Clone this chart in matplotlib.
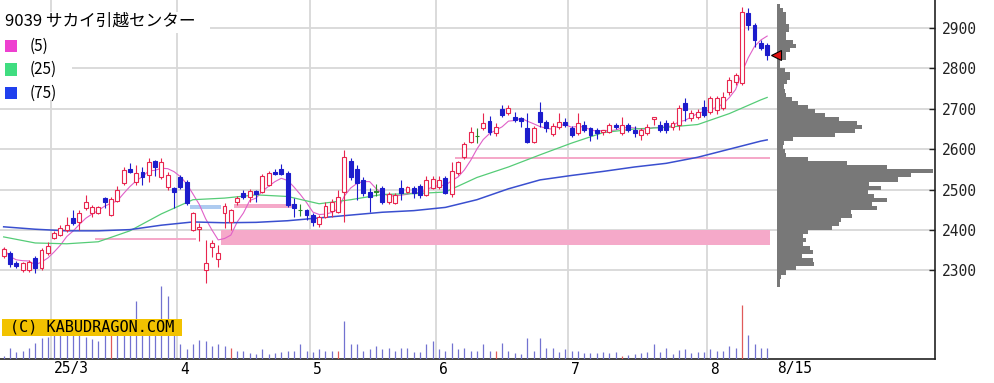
import numpy as np
import pandas as pd
import matplotlib
matplotlib.use('Agg')
import matplotlib.pyplot as plt
from matplotlib.patches import Rectangle
import matplotlib.transforms as mtransforms

plt.rcParams['font.family'] = ['Noto Sans CJK JP', 'DejaVu Sans']

title = '9039 サカイ引越センター'

# daily OHLC, 2025-02-18 .. 2025-08-15
opens = [2336, 2343, 2319, 2300, 2302, 2330, 2305, 2343, 2380, 2388,
         2400, 2430, 2420, 2454, 2442, 2442, 2479, 2437, 2472, 2517,
         2551, 2519, 2543, 2536, 2571, 2531, 2507, 2504, 2531, 2519,
         2400, 2403, 2301, 2358, 2328, 2442, 2420, 2469, 2491, 2481,
         2497, 2494, 2512, 2543, 2551, 2541, 2465, 2449, 2449, 2437,
         2415, 2432, 2447, 2444, 2494, 2571, 2551, 2524, 2494, 2495,
         2504, 2469, 2467, 2504, 2494, 2504, 2509, 2487, 2504, 2506,
         2529, 2489, 2541, 2580, 2618, 2632, 2652, 2669, 2640, 2699,
         2689, 2679, 2677, 2652, 2618, 2692, 2667, 2637, 2655, 2667,
         2652, 2640, 2660, 2652, 2647, 2642, 2642, 2660, 2640, 2660,
         2647, 2635, 2640, 2674, 2660, 2664, 2655, 2660, 2715, 2677,
         2679, 2704, 2692, 2697, 2702, 2742, 2766, 2764, 2937, 2907,
         2862, 2857]
highs = [2358, 2348, 2323, 2322, 2326, 2336, 2355, 2370, 2398, 2412,
         2432, 2449, 2449, 2487, 2462, 2460, 2482, 2482, 2509, 2556,
         2566, 2561, 2556, 2578, 2573, 2578, 2543, 2507, 2536, 2524,
         2445, 2417, 2375, 2375, 2363, 2467, 2453, 2484, 2499, 2501,
         2499, 2538, 2546, 2551, 2563, 2546, 2479, 2465, 2452, 2442,
         2437, 2469, 2477, 2499, 2598, 2578, 2561, 2531, 2504, 2514,
         2509, 2494, 2491, 2524, 2509, 2509, 2514, 2534, 2534, 2534,
         2534, 2568, 2570, 2618, 2655, 2652, 2689, 2682, 2664, 2709,
         2709, 2692, 2679, 2689, 2657, 2717, 2672, 2664, 2689, 2677,
         2657, 2689, 2669, 2655, 2652, 2647, 2664, 2664, 2679, 2664,
         2657, 2652, 2662, 2679, 2669, 2672, 2669, 2709, 2727, 2697,
         2699, 2722, 2732, 2732, 2742, 2779, 2789, 2952, 2949, 2912,
         2870, 2862]
lows = [2331, 2309, 2306, 2296, 2296, 2294, 2302, 2338, 2378, 2385,
        2395, 2412, 2400, 2449, 2432, 2440, 2454, 2435, 2469, 2512,
        2541, 2512, 2512, 2519, 2534, 2527, 2499, 2454, 2502, 2462,
        2398, 2373, 2269, 2333, 2309, 2405, 2400, 2462, 2476, 2469,
        2469, 2491, 2509, 2536, 2536, 2457, 2432, 2434, 2424, 2410,
        2407, 2430, 2432, 2442, 2420, 2524, 2474, 2484, 2444, 2484,
        2464, 2464, 2464, 2474, 2491, 2479, 2479, 2484, 2502, 2502,
        2489, 2481, 2536, 2575, 2615, 2615, 2647, 2635, 2632, 2679,
        2684, 2667, 2654, 2615, 2615, 2654, 2642, 2632, 2650, 2655,
        2630, 2635, 2642, 2620, 2625, 2635, 2640, 2650, 2635, 2642,
        2630, 2622, 2635, 2659, 2642, 2640, 2647, 2647, 2670, 2669,
        2675, 2679, 2687, 2687, 2697, 2734, 2759, 2759, 2895, 2853,
        2845, 2821]
closes = [2353, 2316, 2310, 2318, 2320, 2306, 2350, 2360, 2393, 2405,
          2412, 2417, 2442, 2469, 2457, 2457, 2470, 2477, 2499, 2548,
          2543, 2541, 2531, 2568, 2556, 2568, 2536, 2494, 2507, 2467,
          2442, 2407, 2318, 2368, 2343, 2459, 2449, 2479, 2481, 2497,
          2489, 2534, 2541, 2538, 2538, 2462, 2454, 2449, 2437, 2420,
          2432, 2459, 2469, 2481, 2580, 2531, 2516, 2491, 2481, 2495,
          2469, 2489, 2487, 2491, 2506, 2491, 2487, 2524, 2526, 2524,
          2491, 2546, 2568, 2613, 2642, 2632, 2664, 2642, 2655, 2684,
          2702, 2672, 2670, 2618, 2652, 2667, 2652, 2657, 2667, 2660,
          2635, 2664, 2647, 2635, 2640, 2647, 2660, 2655, 2660, 2647,
          2640, 2647, 2655, 2679, 2647, 2647, 2664, 2702, 2697, 2689,
          2692, 2684, 2727, 2727, 2729, 2771, 2784, 2939, 2907, 2870,
          2850, 2833]
# volume, thousand shares
volumes = [3, 11, 7, 8, 11, 16, 21, 22, 26, 25,
           28, 26, 24, 22, 20, 18, 25, 25, 27, 28,
           30, 58, 30, 30, 32, 73, 63, 30, 15, 10,
           15, 19, 18, 13, 15, 13, 11, 8, 8, 6,
           5, 10, 5, 6, 7, 8, 8, 15, 8, 7,
           10, 8, 8, 8, 38, 15, 15, 8, 10, 13,
           10, 11, 8, 11, 11, 7, 7, 15, 18, 10,
           8, 16, 10, 11, 8, 8, 15, 8, 8, 16,
           8, 6, 5, 21, 8, 21, 11, 11, 7, 10,
           8, 8, 6, 6, 6, 7, 6, 7, 3, 4,
           5, 6, 7, 15, 7, 11, 5, 9, 10, 6,
           7, 7, 10, 8, 8, 13, 11, 54, 24, 15,
           11, 11]
vol_red_days = [17, 36, 53, 78, 98, 117]

month_start = [8, 28, 49, 69, 90, 112]
month_labels = ['25/3', '4', '5', '6', '7', '8']
last_label = '8/15'

# moving averages
ma_days = [0, 5, 10, 15, 20, 25, 30, 35, 40, 45, 50, 55, 60, 65, 70, 75,
           80, 85, 90, 95, 100, 105, 110, 115, 120, 121]
ma25 = [2383, 2368, 2366, 2371, 2398, 2440, 2475, 2479, 2487, 2483, 2465,
        2475, 2488, 2490, 2494, 2530, 2556, 2586, 2615, 2641, 2650, 2654,
        2661, 2688, 2722, 2728]
ma75 = [2408, 2402, 2398, 2398, 2401, 2412, 2420, 2418, 2419, 2423, 2430,
        2437, 2444, 2448, 2456, 2475, 2502, 2524, 2535, 2545, 2556, 2565,
        2580, 2600, 2620, 2623]
ma_windows = [5, 25, 75]

# open price gaps (first day, last day, low, high, direction)
gap_start = [15, 30, 37, 35, 72]
gap_end = [30, 34, 46, 121, 121]
gap_lo = [2375, 2451, 2455, 2363, 2575]
gap_hi = [2381, 2462, 2465, 2400, 2581]
gap_up = [True, False, True, True, True]

# price-by-volume profile, 10 yen bins
profile_price = np.arange(2260, 2960, 10)
profile_vol = [3, 3, 4, 9, 19, 37, 36, 25, 36, 33,
               26, 29, 26, 31, 55, 62, 64, 75, 74, 100,
               95, 110, 97, 91, 104, 92, 121, 134, 156, 110,
               70, 31, 9, 8, 6, 7, 16, 58, 78, 85,
               80, 62, 48, 38, 31, 21, 15, 9, 8, 7,
               10, 13, 13, 8, 3, 3, 9, 9, 13, 19,
               16, 9, 9, 12, 12, 9, 9, 9, 6, 3]

price_ticks = [2300, 2400, 2500, 2600, 2700, 2800, 2900]

up_c = '#e8264f'
dn_c = '#1c1ccc'
eq_c = '#2a8a2a'
grid_c = '#d8d8d8'
ma_colors = ['#e060c8', '#55cc77', '#3a4fcf']
leg_colors = ['#ee40d0', '#40dd80', '#2040ee']

W, H = 995, 383
fig = plt.figure(figsize=(W / 100, H / 100), dpi=100)


def fx(px):
    return px / W


def fy(py):
    return 1 - py / H


n = len(closes)
idx = np.arange(n)
o = np.array(opens)
c = np.array(closes)

ax = fig.add_axes([0, fy(359), fx(935), 359 / H])
ax.set_xlim(-0.58, 147.6)
ax.set_ylim(2081, 2969)

for p in price_ticks:
    ax.axhline(p, color=grid_c, lw=1.3, zorder=0.5)
for m in month_start:
    ax.axvline(m - 0.5, color=grid_c, lw=1.3, zorder=0.5)

for s, e, lo, hi, up in zip(gap_start, gap_end, gap_lo, gap_hi, gap_up):
    ax.fill_between([s - 0.5, e + 0.5], lo, hi, color='#f5a9c9' if up else '#aecbf0',
                    lw=0, zorder=1)

ma5 = pd.Series(closes).rolling(5, min_periods=1).mean()
ax.plot(idx, ma5, color=ma_colors[0], lw=0.8, zorder=2)
ax.plot(ma_days, ma25, color=ma_colors[1], lw=0.9, zorder=2)
ax.plot(ma_days, ma75, color=ma_colors[2], lw=1.1, zorder=2)

cols = np.where(c > o, up_c, np.where(c < o, dn_c, eq_c))
ax.vlines(idx, lows, highs, colors=cols, lw=0.8, zorder=3)
face = np.where(c > o, 'white', cols)
body = np.maximum(np.abs(c - o), 1.5)
ax.bar(idx, body, bottom=np.minimum(o, c), width=0.62, color=face,
       edgecolor=cols, lw=0.8, zorder=4)

ax.yaxis.tick_right()
ax.set_yticks(price_ticks)
ax.set_yticklabels([str(p) for p in price_ticks], family='DejaVu Sans Mono',
                   fontsize=10.5)
ax.tick_params(axis='y', direction='in', length=4, width=1, pad=5,
               colors='#222222')
ax.set_xticks([])
for side in ['top', 'left']:
    ax.spines[side].set_visible(False)
for side in ['right', 'bottom']:
    ax.spines[side].set_linewidth(1.2)
    ax.spines[side].set_color('#222222')

offset = mtransforms.ScaledTranslation(3 / 100, 0, fig.dpi_scale_trans)
trans = mtransforms.blended_transform_factory(ax.transData, ax.transAxes) + offset
for m, lab in zip(month_start + [n + 0.6], month_labels + [last_label]):
    ax.text(m - 0.5, -10 / 359, lab, transform=trans, ha='left', va='center',
            family='DejaVu Sans Mono', fontsize=10.5, clip_on=False)

# volume
axv = fig.add_axes([0, fy(359), fx(935), 359 / H])
axv.set_xlim(-0.58, 147.6)
axv.set_ylim(0, 359)
axv.axis('off')
vcol = ['#e05a5a' if i in vol_red_days else '#7272d0' for i in idx]
axv.vlines(idx, 0, volumes, colors=vcol, lw=0.9)

# price-by-volume
axp = fig.add_axes([fx(777), fy(359), fx(935 - 777), 359 / H])
axp.set_xlim(0, 158)
axp.set_ylim(2081, 2969)
axp.axis('off')
axp.barh(profile_price, profile_vol, height=10, align='edge', color='#787878', lw=0)
axp.plot([n + 0.4], [closes[-1]], marker='<', ms=7, mfc='#e01010', mec='black',
         mew=0.8, transform=ax.transData, clip_on=False)

# title and legend
fig.add_artist(Rectangle((0, fy(33)), fx(210), 21 / H, transform=fig.transFigure,
                         fc='white', ec='none', zorder=5))
fig.add_artist(Rectangle((0, fy(100)), fx(72), 67 / H, transform=fig.transFigure,
                         fc='white', ec='none', zorder=5))
fig.text(fx(5), fy(21.5), title, fontsize=12, ha='left', va='center', zorder=6)
for k, (win, col) in enumerate(zip(ma_windows, leg_colors)):
    yc = 46 + 23.5 * k
    fig.add_artist(Rectangle((fx(5), fy(yc + 6)), fx(12), 12 / H,
                             transform=fig.transFigure, fc=col, ec='none', zorder=6))
    fig.text(fx(30), fy(yc), f'({win})', fontsize=11, ha='left', va='center', zorder=6)

fig.add_artist(Rectangle((fx(2), fy(336)), fx(180), 17 / H, transform=fig.transFigure,
                         fc='#f2c200', ec='none', zorder=5))
fig.text(fx(92), fy(327.5), '(C) KABUDRAGON.COM', family='DejaVu Sans Mono',
         fontsize=11, ha='center', va='center', zorder=6)

fig.savefig('out.png', dpi=100)
